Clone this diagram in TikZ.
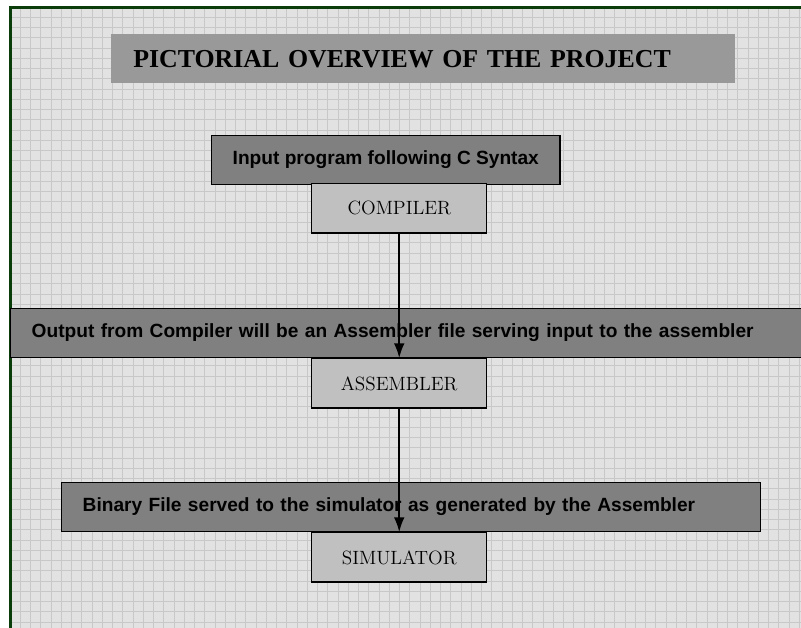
\documentclass[tikz,border=0pt]{standalone}
\usepackage{fontspec}
\usetikzlibrary{arrows.meta}
\newfontfamily\headfont{Liberation Serif}
\newfontfamily\notefont{Liberation Sans}
\definecolor{paper}{HTML}{E2E2E2}
\definecolor{gridgrey}{HTML}{C8C8C8}
\definecolor{frame}{HTML}{0B3D0B}
\definecolor{titlegrey}{HTML}{999999}
\definecolor{notegrey}{HTML}{808080}
\definecolor{stagegrey}{HTML}{C0C0C0}
\tikzset{
  banner/.style={fill=titlegrey, anchor=north west, inner xsep=16.5pt, inner ysep=0pt,
    minimum width=468pt, minimum height=36.75pt, text width=435pt, align=left,
    font=\headfont\bfseries\fontsize{19.4}{23}\selectfont},
  note/.style={draw=black, line width=1.1pt, fill=notegrey, anchor=north west,
    inner xsep=15.75pt, inner ysep=0pt, minimum height=36.5pt, align=left,
    font=\notefont\bfseries\fontsize{14.35}{17}\selectfont},
  stage/.style={draw=black, line width=1.1pt, fill=stagegrey, anchor=north west,
    inner sep=0pt, minimum width=131.25pt, minimum height=37pt,
    font=\fontsize{14.4}{17}\selectfont},
  flow/.style={line width=1.2pt, -{Latex[length=11pt,width=8pt]}},
}
\begin{document}
\begin{tikzpicture}[x=0.75pt,y=-0.75pt]
\useasboundingbox (0,0) rectangle (801,628);
\clip (0,0) rectangle (801,628);
% paper with a fine grid
\fill[white] (0,0) rectangle (801,628);
\fill[paper] (10,7) rectangle (801,628);
\foreach \i in {0,...,77}
  \draw[gridgrey, line width=0.75pt] ({10+\i*10.25},7) -- ({10+\i*10.25},628);
\foreach \j in {0,...,60}
  \draw[gridgrey, line width=0.75pt] (10,{7+\j*10.25}) -- (801,{7+\j*10.25});
\draw[frame, line width=1.6pt] (10.5,628) -- (10.5,7.5) -- (801,7.5);

% heading
\node[banner] (title) at (111,34) {PICTORIAL OVERVIEW OF THE PROJECT};

% notes and stages
\node[note] (input) at (211,135) {Input program following C Syntax};
\node[stage] (compiler) at (311,183) {COMPILER};
\node[note, text width=572.25pt] (asmfile) at (10,308) {Output from Compiler will be an Assembler file serving input to the assembler};
\node[stage] (assembler) at (311,358) {ASSEMBLER};
\node[note, text width=492.75pt] (binfile) at (61,482) {Binary File served to the simulator as generated by the Assembler};
\node[stage] (simulator) at (311,532) {SIMULATOR};

% flow between stages
\draw[flow] (compiler.south) -- (assembler.north);
\draw[flow] (assembler.south) -- (simulator.north);
\end{tikzpicture}
\end{document}
